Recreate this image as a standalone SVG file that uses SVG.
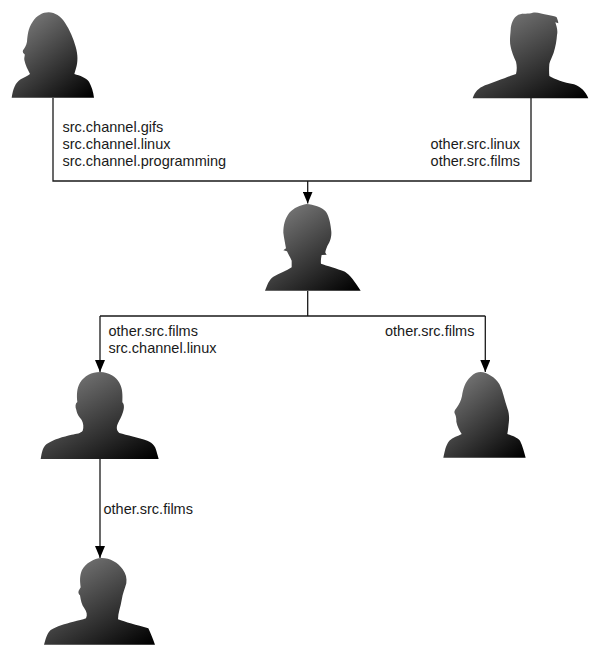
<svg xmlns="http://www.w3.org/2000/svg" width="600" height="657" viewBox="0 0 600 657">
<style>
.edge{fill:none;stroke:#1a1a1a;stroke-width:1.3}
.person{fill:url(#shade)}
text{font-family:"Liberation Sans",Arial,sans-serif;font-size:14.5px;fill:#1a1a1a}
.end{text-anchor:end}
</style>
<defs>
<linearGradient id="shade" x1="0.25" y1="0.1" x2="0.95" y2="1">
<stop offset="0" stop-color="#707070"/>
<stop offset="1" stop-color="#000000"/>
</linearGradient>
<marker id="headLong" markerUnits="userSpaceOnUse" markerWidth="12" markerHeight="10" refX="12" refY="5" orient="auto">
<path d="M0 0L12 5L0 10Z" fill="#000"/>
</marker>
</defs>
<rect width="600" height="657" fill="#fff"/>
<g id="connectors">
<path class="edge" d="M53 98V181H531V98"/>
<path class="edge" d="M307.7 181V203.5" marker-end="url(#headLong)"/>
<path class="edge" d="M307.7 291V316M100 316H485.3"/>
<path class="edge" d="M100 316V372" marker-end="url(#headLong)"/>
<path class="edge" d="M485.3 316V372" marker-end="url(#headLong)"/>
<path class="edge" d="M100 459V558" marker-end="url(#headLong)"/>
</g>
<g id="person-top-left">
<path class="person" transform="scale(.33333)" d="M35 293C40 265 45 250 62 238C72 232 82 228 90 222C84 210 76 195 73 180C72 172 75 168 74 163C70 160 67 157 69 151C73 144 79 137 81 125C83 105 84 85 98 65C110 47 128 37 146 37C165 38 182 48 195 68C210 90 220 115 227 140C234 165 234 185 228 205L223 222C240 227 258 233 267 245C274 258 280 275 282 293Z"/>
</g>
<g id="person-top-right">
<path class="person" transform="translate(420 0) scale(.33333)" d="M158 295C165 275 175 265 195 256C220 247 250 236 270 228L288 222C291 210 291 198 288 185C281 170 275 155 272 140C268 125 271 105 272 90C273 70 280 52 295 44C310 38 325 43 338 38C352 35 365 42 385 45C395 47 405 48 410 52C412 58 415 64 415 70L406 67C410 80 414 92 411 105C410 120 407 140 401 158C396 172 390 182 388 192C387 205 387 218 388 228C405 238 430 247 462 253C482 260 497 275 505 295Z"/>
</g>
<g id="person-center">
<path class="person" transform="translate(250 170) scale(.33333)" d="M45 362C52 345 56 330 70 320C88 310 110 302 125 292L125 272C120 260 114 252 111 244L100 241L108 235C106 222 102 205 100 188C100 165 105 145 118 128C132 113 150 106 170 102C190 104 215 110 228 125C238 140 242 165 244 185C245 205 238 218 232 228C228 238 226 244 226 248L230 254L215 255C213 265 212 275 213 281C230 287 260 295 285 305C300 315 315 335 332 362Z"/>
</g>
<g id="person-middle-left">
<path class="person" transform="translate(30 310) scale(.33333)" d="M32 447C36 425 38 412 50 402C70 388 100 380 125 374C140 371 152 370 158 362C162 352 160 340 155 330C148 320 142 315 139 300C135 290 136 280 142 276C140 255 140 235 150 218C163 198 185 186 210 186C238 187 258 200 268 218C278 235 278 255 277 277C283 282 283 295 279 306C275 320 268 330 264 340C258 352 260 362 268 369C290 376 325 382 352 392C370 400 376 410 379 422L386 447Z"/>
</g>
<g id="person-middle-right">
<path class="person" transform="translate(380 310) scale(.33333)" d="M190 443C194 425 197 405 208 392C218 382 235 378 245 372C238 360 232 350 229 335C229 328 229 320 225 312C221 306 224 300 230 293C238 282 243 272 246 258C249 238 255 215 272 200C282 190 292 186 302 186C322 187 345 202 358 222C370 245 373 270 382 295C390 315 387 335 385 350C384 360 383 366 382 372C395 376 412 382 420 392C428 408 432 425 437 443Z"/>
</g>
<g id="person-bottom">
<path class="person" transform="translate(30 490) scale(.33333)" d="M42 464C48 445 50 432 62 420C80 408 105 402 130 395C145 391 158 390 168 385C173 375 170 365 163 355C155 345 152 330 150 316C146 312 144 308 146 302L152 292C150 275 148 258 156 240C168 220 190 205 215 204C240 204 265 218 278 238C288 252 291 265 289 280C285 295 278 310 275 330C272 350 264 368 264 388C285 396 320 405 355 415C362 430 370 450 375 464Z"/>
</g>
<g id="labels">
<text x="62.5" y="132">src.channel.gifs</text>
<text x="62.5" y="149">src.channel.linux</text>
<text x="62.5" y="166">src.channel.programming</text>
<text class="end" x="520" y="149">other.src.linux</text>
<text class="end" x="520" y="166">other.src.films</text>
<text x="108.5" y="335.5">other.src.films</text>
<text x="108.5" y="352.5">src.channel.linux</text>
<text x="385" y="335.5">other.src.films</text>
<text x="103.5" y="513.5">other.src.films</text>
</g>
</svg>
